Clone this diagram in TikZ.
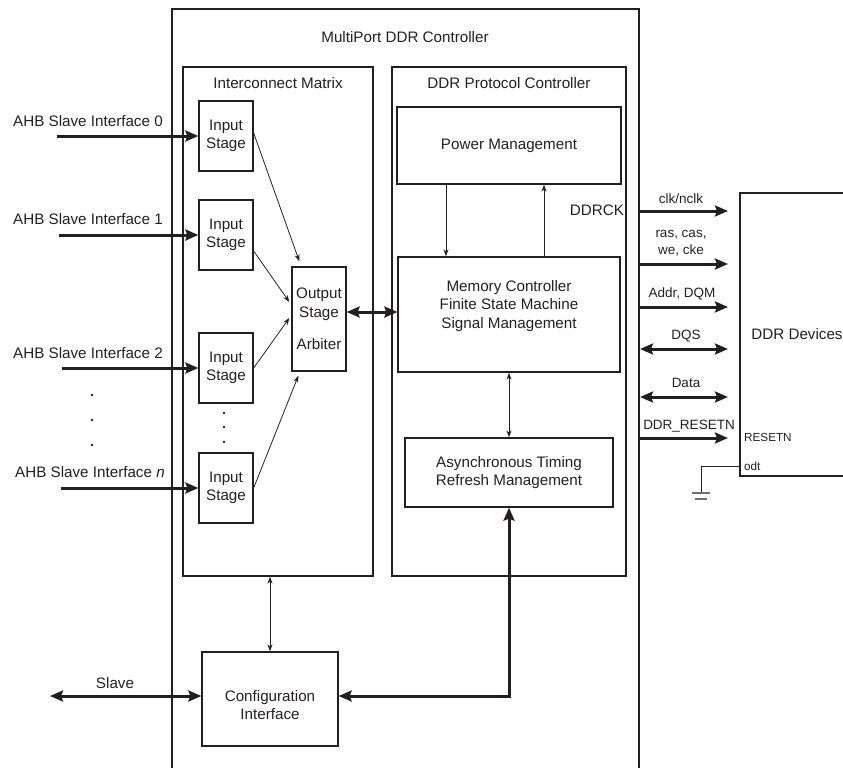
\documentclass[tikz,border=0pt]{standalone}
\usepackage{fontspec}
\setmainfont{Liberation Sans}
\usetikzlibrary{arrows.meta, positioning, calc}
\definecolor{ink}{RGB}{35,31,32}
\definecolor{gndgray}{RGB}{110,110,110}
\newcommand{\mainsize}{\fontsize{15.2}{18.5}\selectfont}
\newcommand{\sigsize}{\fontsize{13.5}{17}\selectfont}
\newcommand{\pinsize}{\fontsize{11.7}{14}\selectfont}
\tikzstyle{frame} = [draw=ink, line width=1.3pt]
\tikzstyle{block} = [rectangle, draw=ink, line width=1.3pt, inner sep=0pt, align=center, font=\mainsize, text=ink]
\tikzstyle{txt} = [inner sep=0pt, align=center, font=\mainsize, text=ink]
\tikzstyle{sig} = [inner sep=0pt, align=center, font=\sigsize, text=ink]
\tikzstyle{pin} = [inner sep=0pt, font=\pinsize, text=ink, anchor=west]
\tikzstyle{arrow} = [draw=ink, line width=0.8pt, -{Stealth[length=7pt, width=5pt]}]
\tikzstyle{dblarrow} = [draw=ink, line width=0.8pt, {Stealth[length=7pt, width=5pt]}-{Stealth[length=7pt, width=5pt]}]
\tikzstyle{bus} = [draw=ink, line width=3pt, -{Stealth[length=13pt, width=11pt, inset=2pt]}]
\tikzstyle{dblbus} = [draw=ink, line width=3pt, {Stealth[length=13pt, width=11pt, inset=2pt]}-{Stealth[length=13pt, width=11pt, inset=2pt]}]

\begin{document}
\begin{tikzpicture}[x=1pt, y=-1pt]
  \useasboundingbox (0,0) rectangle (843,768);

  % controller frame, open at the bottom
  \draw[frame] (172,768) -- (172,9) -- (639,9) -- (639,768);
  \node[txt] (ctrl) at (405,37) {MultiPort DDR Controller};

  \node[block, minimum width=190, minimum height=509] (icm) at (278,321.5) {};
  \node[txt] (icmtitle) at (278,83) {Interconnect Matrix};
  \node[block, minimum width=234, minimum height=509] (dpc) at (509,321.5) {};
  \node[txt] (dpctitle) at (509,83) {DDR Protocol Controller};

  % input side
  \node[block, minimum width=54, minimum height=70] (in0) at (226,136) {Input\\Stage};
  \node[block, minimum width=54, minimum height=70] (in1) at (226,235) {Input\\Stage};
  \node[block, minimum width=54, minimum height=70] (in2) at (226,368) {Input\\Stage};
  \node[block, minimum width=54, minimum height=70] (inN) at (226,488) {Input\\Stage};
  \node[block, minimum width=54, minimum height=104] (out) at (319,319) {Output\\Stage\\[14pt]Arbiter};

  \coordinate (ahb0) at (57,136);
  \coordinate (ahb1) at (59,235);
  \coordinate (ahb2) at (62,368);
  \coordinate (ahbN) at (61,488);
  \node[txt, anchor=west] (ahb0lbl) at (13,121) {AHB Slave Interface 0};
  \node[txt, anchor=west] (ahb1lbl) at (13,219) {AHB Slave Interface 1};
  \node[txt, anchor=west] (ahb2lbl) at (13,353) {AHB Slave Interface 2};
  \node[txt, anchor=west] (ahbNlbl) at (15,472) {AHB Slave Interface \textit{n}};
  \foreach \y in {395,420,445} \fill[ink] (92,\y) circle (1.3pt);
  \foreach \y in {413,427,442} \fill[ink] (224,\y) circle (1.3pt);

  \draw[bus] (ahb0) -- (in0.west);
  \draw[bus] (ahb1) -- (in1.west);
  \draw[bus] (ahb2) -- (in2.west);
  \draw[bus] (ahbN) -- (inN.west);
  \draw[arrow] ($(in0.east)+(0,-3)$) -- ($(out.north west)+(8,-5)$);
  \draw[arrow] ($(in1.east)+(0,16)$) -- ($(out.west)+(-2,-17)$);
  \draw[arrow] (in2.east) -- ($(out.west)+(-2,-1)$);
  \draw[arrow] (inN.east) -- ($(out.south west)+(7,4)$);

  % protocol controller
  \node[block, minimum width=224, minimum height=77] (pwr) at (509,145.5) {Power Management};
  \node[block, minimum width=222, minimum height=115] (mem) at (509,314.5) {};
  \node[txt] (memtxt) at (509,306) {Memory Controller\\Finite State Machine\\Signal Management};
  \node[block, minimum width=208, minimum height=69] (async) at (509,472.5) {Asynchronous Timing\\Refresh Management};
  \node[txt] (ddrck) at (597,210) {DDRCK};

  \draw[dblbus] ($(out.east)+(0,-7)$) -- ($(mem.west)+(0,-2.5)$);
  \draw[arrow] ($(pwr.south)+(-63,0)$) -- ($(mem.north)+(-63,0)$);
  \draw[arrow] ($(mem.north)+(35,0)$) -- ($(pwr.south)+(35,0)$);
  \draw[dblarrow] (mem) -- (async);

  % configuration
  \node[block, minimum width=136, minimum height=94] (cfg) at (270,699) {};
  \node[txt] (cfgtxt) at (270,705) {Configuration\\Interface};
  \coordinate (slv) at (50,696);
  \node[txt] (slvlbl) at (115,683) {Slave};
  \draw[dblarrow] (cfg.north |- icm.south) -- (cfg.north);
  \draw[dblbus] (slv) -- (slv -| cfg.west);
  \draw[dblbus] (cfg.east |- slv) -| (async.south);

  % memory devices
  \node[block, minimum width=114, minimum height=283] (dev) at (797,334.5) {DDR Devices};
  \node[pin] (rst) at (744,437) {RESETN};
  \node[pin] (odt) at (744,466) {odt};

  \coordinate (tip) at (728,0);
  \coordinate (clk) at (639,211);
  \coordinate (cmd) at (639,264);
  \coordinate (addr) at (639,307);
  \coordinate (dqs) at (640,349);
  \coordinate (data) at (640,397);
  \coordinate (rstn) at (639,438);
  \draw[bus] (clk) -- (clk -| tip);
  \draw[bus] (cmd) -- (cmd -| tip);
  \draw[bus] (addr) -- (addr -| tip);
  \draw[dblbus] (dqs) -- (dqs -| tip);
  \draw[dblbus] (data) -- (data -| tip);
  \draw[bus] (rstn) -- (rstn -| tip);
  \node[sig] (clklbl) at (681,199) {clk/nclk};
  \node[sig] (cmdlbl) at (681,243) {ras, cas,\\we, cke};
  \node[sig] (addrlbl) at (682,294) {Addr, DQM};
  \node[sig] (dqslbl) at (686,336) {DQS};
  \node[sig] (datalbl) at (686,383) {Data};
  \node[sig] (rstnlbl) at (689,426) {DDR\_RESETN};

  % odt tied to ground
  \coordinate (gnd) at (701,493);
  \draw[ink, line width=0.9pt] (dev.west |- odt) -| (gnd);
  \draw[gndgray, line width=1.2pt] ($(gnd)+(-9,0)$) -- ($(gnd)+(9,0)$);
  \draw[gndgray, line width=1.2pt] ($(gnd)+(-6,6)$) -- ($(gnd)+(6,6)$);
\end{tikzpicture}
\end{document}
